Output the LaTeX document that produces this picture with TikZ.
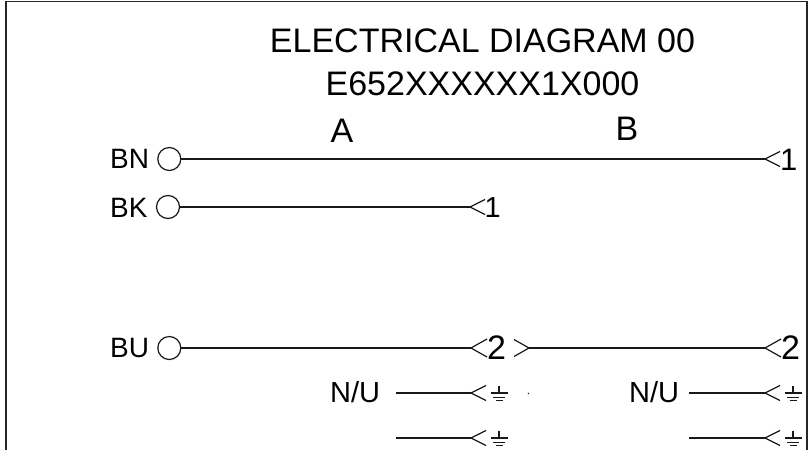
\documentclass[tikz,border=0pt]{standalone}
\usepackage{fontspec}
\setmainfont{Liberation Sans}
\tikzset{
  x=1pt,y=-1pt,
  wire/.style={line width=1.4pt,black!90},
  chev/.style={line width=1.2pt,black!90,line join=miter},
  term/.style={circle,draw=black!90,line width=1.2pt,minimum size=23pt,inner sep=0pt},
  lbl/.style={inner sep=0pt,anchor=base west,font=\fontsize{#1}{#1}\selectfont},
  ttl/.style={inner sep=0pt,anchor=base,font=\fontsize{34}{34}\selectfont},
  pics/gnd/.style={code={\draw[line width=1.1pt,black!90] (0,-7.5)--(0,0) (-8.5,0)--(8.5,0) (-6,4.3)--(6,4.3) (-3.5,7.7)--(3.5,7.7);}},
  pics/lt/.style={code={\draw[chev] (16,-9)--(0,0)--(16,9);}},
  pics/gt/.style={code={\draw[chev] (-15,-8.5)--(0,0)--(-15,8.5);}},
  pics/ltsmall/.style={code={\draw[chev] (15,-7.5)--(0,0)--(15,7.5);}},
}
\begin{document}
\begin{tikzpicture}
\useasboundingbox (0,0) rectangle (811,450);
\draw[line width=1.6pt,black!85] (6,450)--(6,1.5)--(807,1.5)--(807,450);

\node[ttl] (t1) at (482.5,52) {ELECTRICAL DIAGRAM 00};
\node[ttl] (t2) at (482.5,95) {E652XXXXXX1X000};
\node[ttl] (ta) at (342,142) {A};
\node[ttl] (tb) at (627,140) {B};

\node[lbl=28] (bn) at (110,168) {BN};
\node[lbl=28] (bk) at (110,217) {BK};
\node[lbl=28] (bu) at (110,357) {BU};
\node[term] (c1) at (169.3,159) {};
\node[term] (c2) at (168,207) {};
\node[term] (c3) at (169.3,348) {};

\coordinate (e1) at (765,159);
\coordinate (e2) at (470,207);
\coordinate (e3) at (471,348);
\coordinate (s4) at (529,348);
\coordinate (e4) at (765,348);
\draw[wire] (c1)--(e1);
\draw[wire] (c2)--(e2);
\draw[wire] (c3)--(e3);
\draw[wire] (s4)--(e4);
\pic at (e1) {ltsmall};
\pic at (e2) {ltsmall};
\pic at (e3) {lt};
\pic at (s4) {gt};
\pic at (e4) {lt};

\node[lbl=31] (n1) at (780,170) {1};
\node[lbl=29] (n2) at (484.5,217) {1};
\node[lbl=34] (n3) at (487,359) {2};
\node[lbl=34] (n4) at (781,359) {2};

\node[lbl=29] (nu1) at (330,402) {N/U};
\node[lbl=29] (nu2) at (629,402) {N/U};

\coordinate (a1) at (396,393); \coordinate (a2) at (471,393);
\coordinate (b1) at (396,438); \coordinate (b2) at (471,438);
\coordinate (p1) at (689,393); \coordinate (p2) at (765,393);
\coordinate (q1) at (689,438); \coordinate (q2) at (765,438);
\draw[wire] (a1)--(a2);
\draw[wire] (b1)--(b2);
\draw[wire] (p1)--(p2);
\draw[wire] (q1)--(q2);
\pic at (a2) {ltsmall};
\pic at (b2) {ltsmall};
\pic at (p2) {ltsmall};
\pic at (q2) {ltsmall};
\pic at (499,393) {gnd};
\pic at (499,438) {gnd};
\pic at (793,393) {gnd};
\pic at (793,438) {gnd};
\fill[black!80] (528.5,393.5) circle (0.9);
\end{tikzpicture}
\end{document}
